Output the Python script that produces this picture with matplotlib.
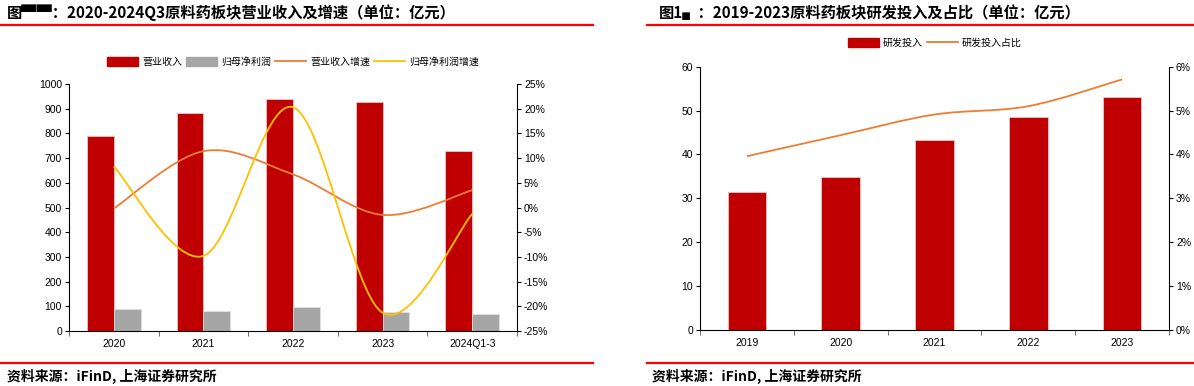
#!/usr/bin/env python3
"""Two panels: API sector revenue / net profit with growth, and R&D spend with share."""
import matplotlib
matplotlib.use("Agg")
import matplotlib.pyplot as plt
from matplotlib.path import Path
from matplotlib.patches import PathPatch, Patch
from matplotlib.lines import Line2D
import numpy as np

plt.rcParams["font.family"] = ["Liberation Sans", "Noto Sans CJK SC", "DejaVu Sans"]
CJK = ["Noto Sans CJK SC", "DejaVu Sans"]

# left panel data
years_l = ["2020", "2021", "2022", "2023", "2024Q1-3"]
revenue = [791, 881, 939, 928, 729]          # 亿元
net_profit = [88, 81, 96, 76, 70]            # 亿元
revenue_growth = [-0.2, 11.4, 6.7, -1.5, 3.5]    # %
profit_growth = [8.3, -9.8, 20.3, -21.3, -1.3]   # %

# right panel data
years_r = ["2019", "2020", "2021", "2022", "2023"]
rd_spend = [31.5, 34.8, 43.3, 48.5, 53.1]    # 亿元
rd_share = [3.96, 4.44, 4.91, 5.10, 5.71]    # %

RED = "#C00000"
GREY = "#A6A6A6"
ORANGE = "#ED7D31"
YELLOW = "#FFC000"


def smooth(ax, xs, ys, color, lw=1.3):
    """Excel-style smoothed line drawn as cubic Bezier segments."""
    p = np.column_stack([xs, ys]).astype(float)
    n = len(p)
    verts = [p[0]]
    codes = [Path.MOVETO]
    for i in range(n - 1):
        p0 = p[max(i - 1, 0)]
        p3 = p[min(i + 2, n - 1)]
        c1 = p[i] + (p[i + 1] - p0) / 6
        c2 = p[i + 1] - (p3 - p[i]) / 6
        verts += [c1, c2, p[i + 1]]
        codes += [Path.CURVE4] * 3
    ax.add_patch(PathPatch(Path(verts, codes), fc="none", ec=color, lw=lw, zorder=3))


def style_axes(ax, ax2, n):
    for s in ["top", "right"]:
        ax.spines[s].set_visible(False)
    for s in ["top", "left", "bottom"]:
        ax2.spines[s].set_visible(False)
    ax.set_xlim(-0.5, n - 0.5)
    ax.set_xticks(np.arange(n))
    ax.set_xticks(np.arange(n + 1) - 0.5, minor=True)
    ax.tick_params(axis="x", which="major", length=0, pad=6, labelsize=7.5)
    ax.tick_params(axis="x", which="minor", length=3.5, direction="out", color="#555555")
    ax.tick_params(axis="y", length=3, direction="out", labelsize=7.5, pad=2)
    ax2.tick_params(axis="y", length=3, direction="out", labelsize=7.5, pad=2)


fig = plt.figure(figsize=(11.94, 3.86), dpi=100)

# ---------------- left panel ----------------
ax = fig.add_axes([69 / 1194, 1 - 331 / 386, 448 / 1194, 247 / 386])
ax2 = ax.twinx()
x = np.arange(len(years_l))
w = 0.3
ax.bar(x - w / 2, revenue, w, color=RED, edgecolor="#F2C4C4", lw=0.6, zorder=2)
ax.bar(x + w / 2, net_profit, w, color=GREY, edgecolor="#E0E0E0", lw=0.6, zorder=2)
ax.set_ylim(0, 1000)
ax.set_yticks(range(0, 1001, 100))
ax.set_xticklabels(years_l)
ax2.set_ylim(-25, 25)
ax2.set_yticks(range(-25, 26, 5))
ax2.set_yticklabels([f"{v}%" for v in range(-25, 26, 5)])
smooth(ax2, x, revenue_growth, ORANGE)
smooth(ax2, x, profit_growth, YELLOW)
style_axes(ax, ax2, len(years_l))

handles = [Patch(color=RED), Patch(color=GREY),
           Line2D([], [], color=ORANGE, lw=1.3), Line2D([], [], color=YELLOW, lw=1.3)]
labels = ["营业收入", "归母净利润", "营业收入增速", "归母净利润增速"]
fig.legend(handles, labels, loc="center", bbox_to_anchor=(293 / 1194, 1 - 62 / 386),
           ncol=4, frameon=False, prop={"family": CJK, "size": 7.2},
           handlelength=3.1, handleheight=0.9, handletextpad=0.4, columnspacing=0.4)

# ---------------- right panel ----------------
bx = fig.add_axes([700 / 1194, 1 - 330 / 386, 469 / 1194, 263.3 / 386])
bx2 = bx.twinx()
xr = np.arange(len(years_r))
bx.bar(xr, rd_spend, 0.41, color=RED, edgecolor="#F2C4C4", lw=0.6, zorder=2)
bx.set_ylim(0, 60)
bx.set_yticks(range(0, 61, 10))
bx.set_xticklabels(years_r)
bx2.set_ylim(0, 6)
bx2.set_yticks(range(0, 7))
bx2.set_yticklabels([f"{v}%" for v in range(0, 7)])
smooth(bx2, xr, rd_share, ORANGE)
style_axes(bx, bx2, len(years_r))

fig.legend([Patch(color=RED), Line2D([], [], color=ORANGE, lw=1.3)],
           ["研发投入", "研发投入占比"], loc="center",
           bbox_to_anchor=(935 / 1194, 1 - 43 / 386), ncol=2, frameon=False,
           prop={"family": CJK, "size": 7.2},
           handlelength=3.1, handleheight=0.9, handletextpad=0.4, columnspacing=0.4)

# ---------------- titles, rules, sources ----------------
fig.text(7 / 1194, 1 - 13 / 386, "图▀▀：2020-2024Q3原料药板块营业收入及增速（单位：亿元）",
         family=CJK, fontsize=11, fontweight="bold", va="center", ha="left")
fig.text(659 / 1194, 1 - 13 / 386, "图1▖：2019-2023原料药板块研发投入及占比（单位：亿元）",
         family=CJK, fontsize=11, fontweight="bold", va="center", ha="left")

for x0, x1 in [(0, 593), (647, 1194)]:
    for yy in (24.5, 363):
        fig.add_artist(Line2D([x0 / 1194, x1 / 1194], [1 - yy / 386] * 2,
                              color="#FF0000", lw=1.6, transform=fig.transFigure))

fig.text(7 / 1194, 1 - 376 / 386, "资料来源：iFinD, 上海证券研究所",
         family=CJK, fontsize=10, fontweight="bold", style="italic", va="center")
fig.text(652 / 1194, 1 - 376 / 386, "资料来源：iFinD, 上海证券研究所",
         family=CJK, fontsize=10, fontweight="bold", style="italic", va="center")

fig.savefig("out.png", dpi=100)
